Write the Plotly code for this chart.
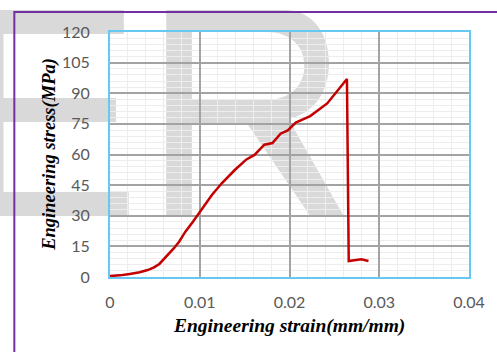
import plotly.graph_objects as go

# ---- data ----
strain = [0, 0.0011, 0.0022, 0.0033, 0.0042, 0.0049, 0.0055, 0.0060, 0.0066,
          0.0071, 0.0077, 0.0084, 0.0092, 0.0099, 0.0106, 0.01135, 0.01245,
          0.0139, 0.0152, 0.0161, 0.0172, 0.0181, 0.0190, 0.0198, 0.0207,
          0.0223, 0.0242, 0.0253, 0.0264, 0.0266, 0.0273, 0.0280, 0.0288]
stress = [0.5, 0.8, 1.5, 2.3, 3.4, 4.7, 6.4, 8.7, 11.3,
          14.0, 17.3, 22.2, 26.8, 31.2, 35.8, 40.2, 45.9,
          52.4, 57.6, 59.8, 64.8, 65.6, 70.2, 71.8, 75.6,
          78.8, 85.0, 91.1, 97.0, 7.8, 8.3, 8.7, 7.8]
x_ticks = [0, 0.01, 0.02, 0.03, 0.04]
x_tick_labels = ["0", "0.01", "0.02", "0.03", "0.04"]
y_ticks = [0, 15, 30, 45, 60, 75, 90, 105, 120]
y_tick_labels = [str(v) for v in y_ticks]
x_title = "Engineering strain(mm/mm)"
y_title = "Engineering stress(MPa)"

# ---- layout geometry (pixels) ----
W, H = 497, 352
L, R, T, B = 110, 23, 32, 75
PW, PH = W - L - R, H - T - B


def px(x, y):
    """pixel position -> paper coordinates"""
    return (x - L) / PW, (H - B - y) / PH


def path(points_cmds):
    out = []
    for cmd, pts in points_cmds:
        coords = []
        for (x, y) in pts:
            a, b = px(x, y)
            coords.append(f"{a:.4f},{b:.4f}")
        out.append(cmd + " " + " ".join(coords))
    return " ".join(out) + " Z"


WM = "#D9D9D9"
E_path = path([
    ("M", [(-5, 10)]), ("L", [(124, 10)]), ("L", [(124, 34)]), ("L", [(2, 34)]),
    ("L", [(2, 98)]), ("L", [(116, 98)]), ("L", [(116, 122)]), ("L", [(2, 122)]),
    ("L", [(2, 192)]), ("L", [(129, 192)]), ("L", [(129, 216)]), ("L", [(-5, 216)]),
])
R_outer = path([
    ("M", [(167, 10)]), ("L", [(287, 10)]),
    ("C", [(315, 10), (332, 33), (332, 63)]),
    ("C", [(332, 95), (314, 114), (291, 119)]),
    ("L", [(347, 216)]), ("L", [(313, 216)]), ("L", [(250, 125)]),
    ("L", [(193, 125)]), ("L", [(193, 216)]), ("L", [(167, 216)]),
])
R_inner = path([
    ("M", [(193, 32)]), ("L", [(193, 100)]), ("L", [(268, 100)]),
    ("C", [(292, 100), (307, 86), (307, 66)]),
    ("C", [(307, 45), (292, 32), (268, 32)]),
])

shapes = [
    dict(type="path", xref="paper", yref="paper", path=E_path,
         fillcolor=WM, line=dict(width=0), layer="below"),
    dict(type="path", xref="paper", yref="paper", path=R_outer + " " + R_inner,
         fillcolor=WM, line=dict(width=0), layer="below", fillrule="evenodd"),
]
x0, y0 = px(13, 12)
x1, y1 = px(560, 400)
shapes.append(dict(type="rect", xref="paper", yref="paper", x0=x0, y0=y1, x1=x1, y1=y0,
                   line=dict(color="#7030A0", width=2), fillcolor="rgba(0,0,0,0)",
                   layer="below"))

fig = go.Figure()
fig.add_trace(go.Scatter(x=strain, y=stress, mode="lines",
                         line=dict(color="#C40000", width=2.5),
                         showlegend=False, hoverinfo="skip"))

tick_font = dict(family="Lato, Open Sans, sans-serif", size=16, color="#595959")
xtitle_font = dict(family="Liberation Serif, Times New Roman, serif", size=19.5,
                   color="#000000", weight="bold", style="italic")
ytitle_font = dict(family="Liberation Serif, Times New Roman, serif", size=18.5,
                   color="#000000", weight="bold", style="italic")

fig.update_layout(
    width=W, height=H,
    margin=dict(l=L, r=R, t=T, b=B, pad=0),
    paper_bgcolor="white", plot_bgcolor="rgba(0,0,0,0)",
    shapes=shapes,
    xaxis=dict(range=[0, 0.04], tickvals=x_ticks, ticktext=x_tick_labels,
               showgrid=True, gridcolor="#A3A3A3", gridwidth=1.5,
               minor=dict(dtick=0.002, showgrid=True, gridcolor="#EDEDED", gridwidth=1),
               zeroline=False, showline=True, mirror=True,
               linecolor="#66C8F0", linewidth=2,
               ticks="", tickfont=tick_font, ticklabelstandoff=10,
               fixedrange=True),
    yaxis=dict(range=[0, 120], tickvals=y_ticks, ticktext=y_tick_labels,
               showgrid=True, gridcolor="#A3A3A3", gridwidth=1.5,
               minor=dict(dtick=3, showgrid=True, gridcolor="#EDEDED", gridwidth=1),
               zeroline=False, showline=True, mirror=True,
               linecolor="#66C8F0", linewidth=2,
               ticks="", tickfont=tick_font, ticklabelstandoff=15,
               fixedrange=True),
    annotations=[
        dict(text=x_title, xref="paper", yref="paper",
             x=px(291, 0)[0], y=px(0, 326)[1], xanchor="center", yanchor="middle",
             showarrow=False, font=xtitle_font),
        dict(text=y_title, xref="paper", yref="paper",
             x=px(48, 0)[0], y=px(0, 154)[1], xanchor="center", yanchor="middle",
             textangle=-90, showarrow=False, font=ytitle_font),
    ],
)

fig.write_html("out.html", config=dict(displayModeBar=False),
               post_script="document.body.style.margin='0';document.body.style.overflow='hidden';")
